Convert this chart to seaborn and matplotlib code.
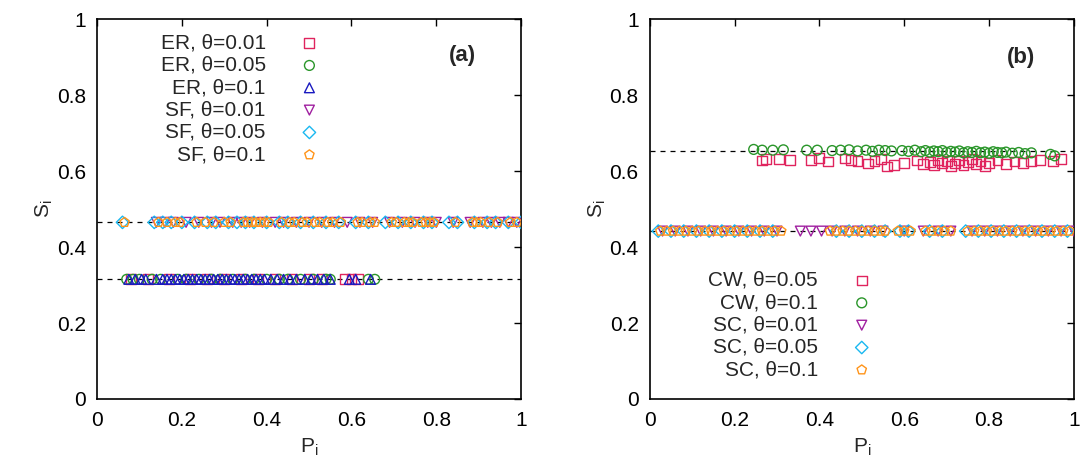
import matplotlib
matplotlib.use('Agg')
import matplotlib.pyplot as plt
import seaborn as sns
import pandas as pd

sns.set_theme(style='white')
plt.rcParams['font.family'] = ['Liberation Sans', 'DejaVu Sans']

# ---- panel (a) data ----
er_line = 0.315
sf_line = 0.465

er001_x = [0.08, 0.12, 0.17, 0.22, 0.26, 0.30, 0.34, 0.38, 0.42, 0.46, 0.50, 0.53, 0.585, 0.60, 0.615]
er005_x = [0.07, 0.085, 0.10, 0.13, 0.15, 0.19, 0.21, 0.24, 0.27, 0.29, 0.32, 0.35, 0.37, 0.40, 0.43,
           0.45, 0.48, 0.51, 0.54, 0.55, 0.64, 0.655]
er01_x = [0.075, 0.09, 0.105, 0.115, 0.14, 0.155, 0.165, 0.175, 0.185, 0.195, 0.205, 0.215, 0.225,
          0.235, 0.245, 0.255, 0.265, 0.275, 0.285, 0.295, 0.305, 0.315, 0.325, 0.335, 0.345, 0.355,
          0.365, 0.375, 0.385, 0.395, 0.41, 0.425, 0.44, 0.455, 0.47, 0.49, 0.505, 0.52, 0.535, 0.55,
          0.595, 0.61, 0.645]
sf001_x = [0.14, 0.16, 0.18, 0.21, 0.24, 0.27, 0.29, 0.32, 0.34, 0.36, 0.39, 0.42, 0.44, 0.47, 0.50,
           0.53, 0.56, 0.59, 0.62, 0.65, 0.69, 0.72, 0.75, 0.78, 0.80, 0.84, 0.88, 0.91, 0.93, 0.95,
           0.97, 0.99]
sf005_x = [0.06, 0.135, 0.155, 0.175, 0.20, 0.23, 0.26, 0.28, 0.31, 0.33, 0.35, 0.37, 0.40, 0.43,
           0.45, 0.48, 0.51, 0.54, 0.57, 0.61, 0.64, 0.68, 0.71, 0.74, 0.77, 0.79, 0.83, 0.85, 0.89,
           0.92, 0.94, 0.97, 1.0]
sf01_x = [0.065, 0.145, 0.165, 0.185, 0.195, 0.235, 0.255, 0.275, 0.30, 0.315, 0.345, 0.355, 0.365,
          0.375, 0.385, 0.395, 0.405, 0.435, 0.455, 0.465, 0.485, 0.495, 0.515, 0.525, 0.545, 0.555,
          0.575, 0.615, 0.625, 0.645, 0.655, 0.695, 0.705, 0.725, 0.735, 0.745, 0.765, 0.775, 0.785,
          0.795, 0.845, 0.885, 0.895, 0.905, 0.925, 0.945, 0.975, 0.99]

# ---- panel (b) data ----
cw_line = 0.653
sc_line = 0.442

cw005_x = [0.265, 0.275, 0.305, 0.33, 0.38, 0.40, 0.42, 0.46, 0.475, 0.49, 0.515, 0.53, 0.545, 0.56,
           0.575, 0.60, 0.63, 0.645, 0.66, 0.67, 0.68, 0.69, 0.70, 0.71, 0.72, 0.73, 0.74, 0.75, 0.76,
           0.77, 0.78, 0.79, 0.80, 0.82, 0.84, 0.86, 0.88, 0.90, 0.92, 0.95, 0.97]
cw005_y = [0.628, 0.632, 0.631, 0.630, 0.629, 0.634, 0.625, 0.633, 0.630, 0.627, 0.620, 0.626, 0.631,
           0.612, 0.617, 0.621, 0.628, 0.619, 0.624, 0.615, 0.630, 0.622, 0.626, 0.613, 0.620, 0.628,
           0.617, 0.624, 0.631, 0.619, 0.626, 0.614, 0.622, 0.629, 0.618, 0.625, 0.621, 0.627, 0.630,
           0.626, 0.632]
cw01_x = [0.245, 0.265, 0.29, 0.315, 0.37, 0.395, 0.43, 0.45, 0.47, 0.49, 0.51, 0.525, 0.54, 0.555,
          0.57, 0.595, 0.61, 0.625, 0.64, 0.65, 0.66, 0.67, 0.68, 0.69, 0.70, 0.71, 0.72, 0.73, 0.74,
          0.75, 0.76, 0.77, 0.78, 0.79, 0.80, 0.81, 0.82, 0.83, 0.84, 0.855, 0.87, 0.885, 0.90, 0.945,
          0.955]
cw01_y = [0.657, 0.655, 0.655, 0.656, 0.655, 0.655, 0.654, 0.655, 0.656, 0.653, 0.655, 0.652, 0.655,
          0.654, 0.653, 0.654, 0.652, 0.655, 0.651, 0.654, 0.650, 0.653, 0.651, 0.654, 0.649, 0.652,
          0.650, 0.653, 0.648, 0.651, 0.649, 0.652, 0.648, 0.650, 0.647, 0.651, 0.649, 0.648, 0.650,
          0.647, 0.649, 0.646, 0.648, 0.644, 0.640]
sc001_x = [0.03, 0.06, 0.09, 0.12, 0.15, 0.18, 0.21, 0.24, 0.27, 0.30, 0.355, 0.38, 0.405, 0.43, 0.46,
           0.49, 0.52, 0.55, 0.60, 0.645, 0.68, 0.71, 0.76, 0.79, 0.82, 0.85, 0.88, 0.91, 0.94, 0.97, 1.0]
sc005_x = [0.02, 0.05, 0.08, 0.11, 0.14, 0.17, 0.20, 0.23, 0.26, 0.29, 0.44, 0.47, 0.50, 0.53, 0.555,
           0.59, 0.61, 0.66, 0.69, 0.745, 0.775, 0.805, 0.835, 0.865, 0.895, 0.925, 0.955, 0.985]
sc01_x = [0.025, 0.04, 0.055, 0.07, 0.085, 0.10, 0.115, 0.13, 0.145, 0.16, 0.175, 0.19, 0.205, 0.22,
          0.235, 0.25, 0.265, 0.28, 0.295, 0.31, 0.425, 0.44, 0.455, 0.47, 0.485, 0.50, 0.515, 0.53,
          0.545, 0.555, 0.585, 0.60, 0.615, 0.65, 0.665, 0.68, 0.695, 0.71, 0.75, 0.765, 0.78, 0.795,
          0.81, 0.825, 0.84, 0.855, 0.87, 0.885, 0.90, 0.915, 0.93, 0.945, 0.96, 0.975, 0.99]

ticks = [0, 0.2, 0.4, 0.6, 0.8, 1]
tick_labels = ['0', '0.2', '0.4', '0.6', '0.8', '1']

red = '#e0245e'
green = '#2a962a'
blue = '#1a1ac0'
purple = '#a020a0'
cyan = '#1ab8f0'
orange = '#ff9419'

fig = plt.figure(figsize=(10.83, 4.61), dpi=100)
ax_a = fig.add_axes([0.0896, 0.1345, 0.3915, 0.824])
ax_b = fig.add_axes([0.600, 0.1345, 0.3915, 0.824])

series_a = [
    ('ER, θ=0.01', er001_x, [er_line] * len(er001_x), red, 's'),
    ('ER, θ=0.05', er005_x, [er_line] * len(er005_x), green, 'o'),
    ('ER, θ=0.1', er01_x, [er_line] * len(er01_x), blue, '^'),
    ('SF, θ=0.01', sf001_x, [sf_line] * len(sf001_x), purple, 'v'),
    ('SF, θ=0.05', sf005_x, [sf_line] * len(sf005_x), cyan, 'D'),
    ('SF, θ=0.1', sf01_x, [sf_line] * len(sf01_x), orange, 'p'),
]
series_b = [
    ('CW, θ=0.05', cw005_x, cw005_y, red, 's'),
    ('CW, θ=0.1', cw01_x, cw01_y, green, 'o'),
    ('SC, θ=0.01', sc001_x, [sc_line] * len(sc001_x), purple, 'v'),
    ('SC, θ=0.05', sc005_x, [sc_line] * len(sc005_x), cyan, 'D'),
    ('SC, θ=0.1', sc01_x, [sc_line] * len(sc01_x), orange, 'p'),
]

for ax, series, lines in [(ax_a, series_a, [er_line, sf_line]), (ax_b, series_b, [cw_line, sc_line])]:
    for yl in lines:
        ax.axhline(yl, color='black', lw=0.9, ls=(0, (4, 4)), zorder=1)
    for label, xs, ys, c, m in series:
        df = pd.DataFrame({'P': xs, 'S': ys})
        msize = 40 if m == 'D' else 50
        sns.scatterplot(data=df, x='P', y='S', marker=m, s=msize, facecolor='none', edgecolor=c,
                        linewidth=1.0, ax=ax, label=label, zorder=3)
    ax.set_xlim(0, 1)
    ax.set_ylim(0, 1)
    ax.set_xticks(ticks)
    ax.set_xticklabels(tick_labels)
    ax.set_yticks(ticks)
    ax.set_yticklabels(tick_labels)
    ax.tick_params(direction='in', length=5, width=1, top=True, right=True, labelsize=15, colors='black')
    ax.tick_params(axis='x', pad=9)
    ax.tick_params(axis='y', pad=8)
    for sp in ax.spines.values():
        sp.set_color('black')
        sp.set_linewidth(1.2)
    ax.set_xlabel(r'P$_\mathregular{i}$', fontsize=15, labelpad=4)
    ax.set_ylabel(r'S$_\mathregular{i}$', fontsize=15, labelpad=1)

ax_a.legend(loc='upper right', bbox_to_anchor=(0.55, 0.962), frameon=False, markerfirst=False, fontsize=15,
            handlelength=2.0, handletextpad=1.1, labelspacing=0.16, borderpad=0, borderaxespad=0)
ax_b.legend(loc='upper right', bbox_to_anchor=(0.549, 0.337), frameon=False, markerfirst=False, fontsize=15,
            handlelength=2.0, handletextpad=1.1, labelspacing=0.16, borderpad=0, borderaxespad=0)

ax_a.text(0.862, 0.905, '(a)', fontsize=16, fontweight='bold', ha='center', va='center', transform=ax_a.transAxes)
ax_b.text(0.875, 0.9, '(b)', fontsize=16, fontweight='bold', ha='center', va='center', transform=ax_b.transAxes)

fig.savefig('out.png', dpi=100)
